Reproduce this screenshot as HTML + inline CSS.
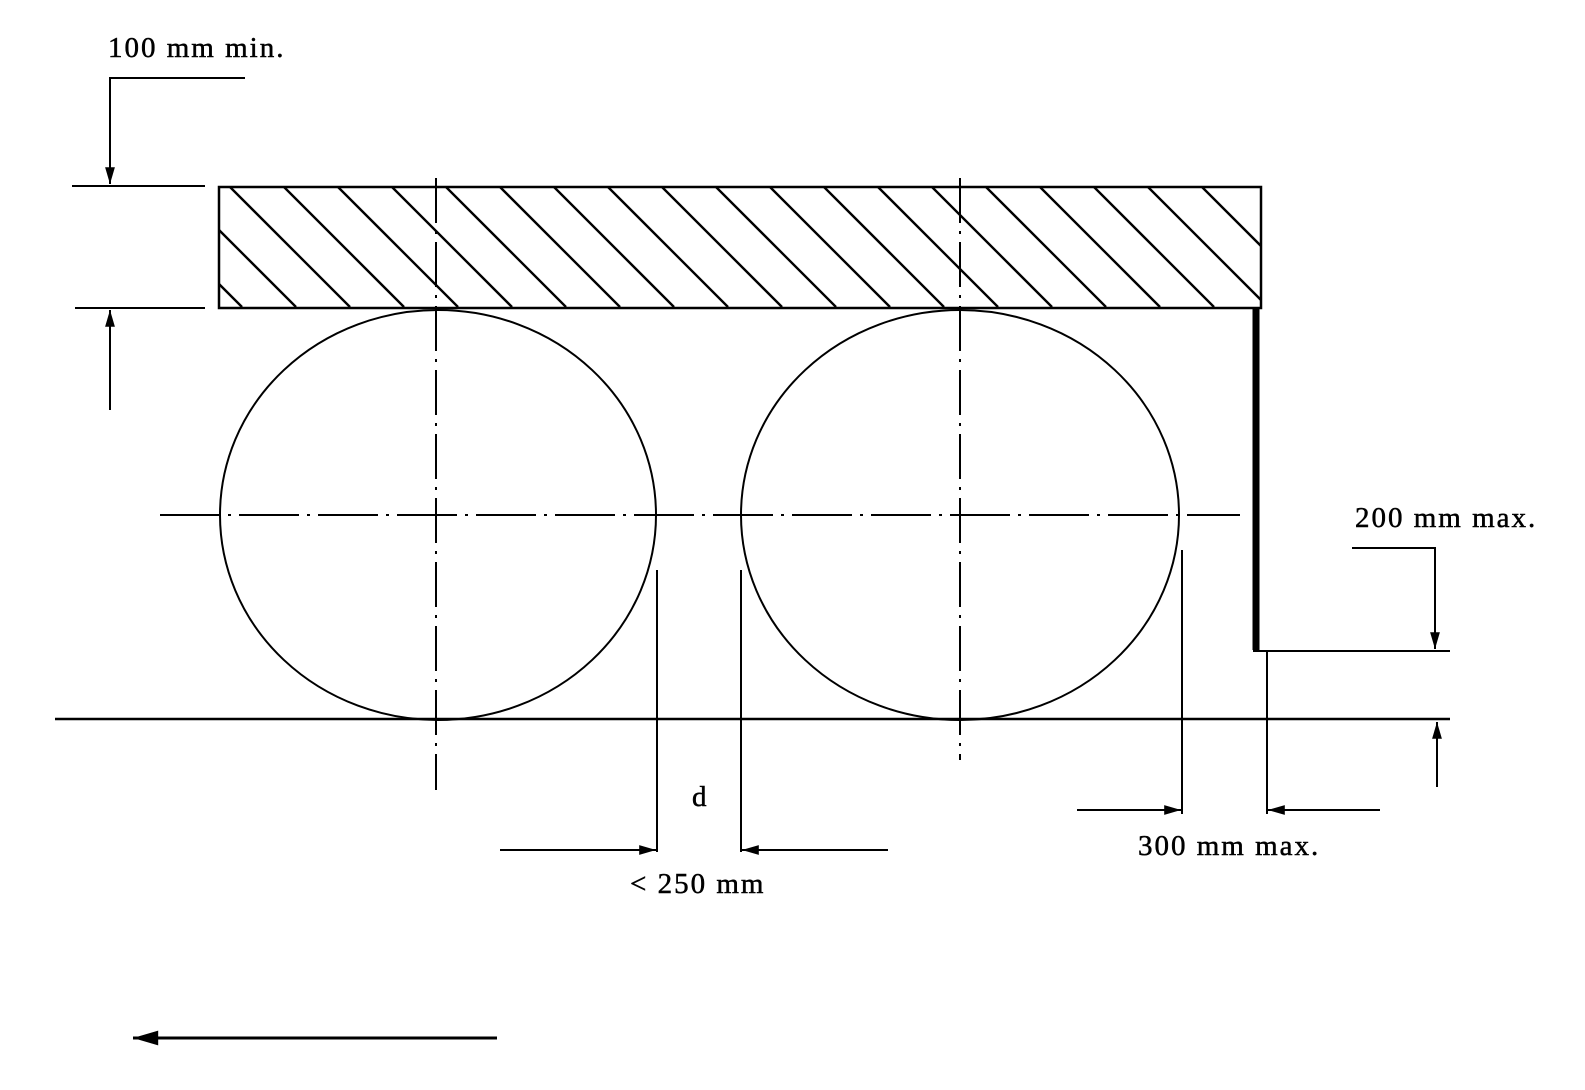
<!DOCTYPE html>
<html><head><style>body{margin:0;background:#fff}svg{display:block}text{font-family:"Liberation Serif",serif;font-size:29px;letter-spacing:2px;fill:#000;stroke:#000;stroke-width:0.5}</style></head>
<body>
<svg width="1585" height="1090" viewBox="0 0 1585 1090" xmlns="http://www.w3.org/2000/svg">
<defs>
<clipPath id="c"><rect x="220" y="187" width="1041" height="120"/></clipPath>
<marker id="a" viewBox="0 0 12 10" refX="12" refY="5" markerWidth="9" markerHeight="7" orient="auto-start-reverse"><path d="M0,1.5 L12,5 L0,8.5 z" fill="#000"/></marker>
</defs>
<g stroke="#000" fill="none" stroke-width="2.5">
<rect x="219" y="187" width="1042" height="121"/>
</g>
<g stroke="#000" stroke-width="2.4" clip-path="url(#c)" fill="none">
<path d="M122,187 l120,120 M176,187 l120,120 M230,187 l120,120 M284,187 l120,120 M338,187 l120,120 M392,187 l120,120 M446,187 l120,120 M500,187 l120,120 M554,187 l120,120 M608,187 l120,120 M662,187 l120,120 M716,187 l120,120 M770,187 l120,120 M824,187 l120,120 M878,187 l120,120 M932,187 l120,120 M986,187 l120,120 M1040,187 l120,120 M1094,187 l120,120 M1148,187 l120,120 M1202,187 l120,120"/>
</g>
<g stroke="#000" fill="none" stroke-width="2">
<line x1="72" y1="186" x2="205" y2="186"/>
<line x1="75" y1="308" x2="205" y2="308"/>
<ellipse cx="438" cy="515" rx="218" ry="205"/>
<ellipse cx="960" cy="515" rx="219" ry="205"/>
<line x1="436" y1="178" x2="436" y2="790" stroke-dasharray="45,8,3,8"/>
<line x1="960" y1="178" x2="960" y2="760" stroke-dasharray="45,8,3,8"/>
<line x1="160" y1="515" x2="1240" y2="515" stroke-dasharray="60,8,3,8"/>
<line x1="55" y1="719" x2="1450" y2="719" stroke-width="2.5"/>
<line x1="1256" y1="308" x2="1256" y2="650" stroke-width="7"/>
<line x1="1253" y1="651" x2="1450" y2="651"/>
<polyline points="245,78 110,78 110,184" marker-end="url(#a)"/>
<line x1="110" y1="410" x2="110" y2="310" marker-end="url(#a)"/>
<polyline points="1352,548 1435,548 1435,649" marker-end="url(#a)"/>
<line x1="1437" y1="787" x2="1437" y2="722" marker-end="url(#a)"/>
<line x1="657" y1="570" x2="657" y2="852"/>
<line x1="741" y1="570" x2="741" y2="852"/>
<line x1="500" y1="850" x2="656" y2="850" marker-end="url(#a)"/>
<line x1="888" y1="850" x2="742" y2="850" marker-end="url(#a)"/>
<line x1="1182" y1="550" x2="1182" y2="814"/>
<line x1="1267" y1="652" x2="1267" y2="814"/>
<line x1="1077" y1="810" x2="1181" y2="810" marker-end="url(#a)"/>
<line x1="1380" y1="810" x2="1268" y2="810" marker-end="url(#a)"/>
<line x1="497" y1="1038" x2="133" y2="1038" stroke-width="3" marker-end="url(#a)"/>
</g>
<text x="108" y="57">100 mm min.</text>
<text x="1355" y="527">200 mm max.</text>
<text x="692" y="806">d</text>
<text x="630" y="893">&lt; 250 mm</text>
<text x="1138" y="855">300 mm max.</text>
</svg>
</body></html>
